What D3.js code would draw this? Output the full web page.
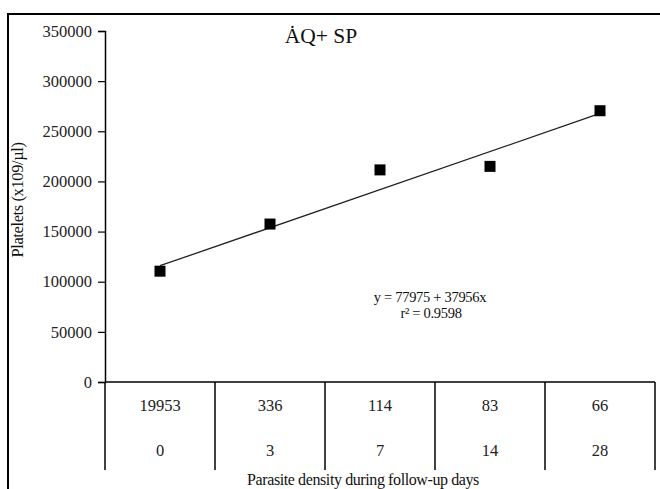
<!DOCTYPE html>
<html><head><meta charset="utf-8">
<script src="https://cdn.jsdelivr.net/npm/d3@7"></script>
<style>body{margin:0;background:#fff}svg{display:block}text{font-family:"Liberation Serif","Times New Roman",serif}</style>
</head><body>
<svg id="c" width="660" height="489"></svg>
<script>
const parasiteDensity = ["19953","336","114","83","66"];
const followUpDays = ["0","3","7","14","28"];
const platelets = [110500, 157500, 211500, 215000, 270500];
const yTicks = [0,50000,100000,150000,200000,250000,300000,350000];
const fitIntercept = 77975, fitSlope = 37956;
const title = "ȦQ+ SP";
const eqText = "y = 77975 + 37956x";
const r2Text = "r² = 0.9598";

const svg = d3.select("#c");
const x0 = 105, x1 = 655, yTop = 31, yBot = 382;
const x = d3.scaleBand().domain(d3.range(parasiteDensity.length)).range([x0, x1]);
const y = d3.scaleLinear().domain([0,350000]).range([yBot, yTop]);

// outer frame
svg.append("path").attr("d","M8,489V14H660").attr("fill","none").attr("stroke","#000").attr("stroke-width",2);

// y axis
const ya = svg.append("g").attr("transform",`translate(${x0},0)`)
  .call(d3.axisLeft(y).tickValues(yTicks).tickSize(7).tickPadding(6).tickFormat(d3.format("d")));
ya.select(".domain").attr("stroke","#000").attr("stroke-width",1.5);
ya.selectAll("line").attr("stroke","#000").attr("stroke-width",1.2);
ya.selectAll("text").attr("font-size",16.5).attr("fill","#222").attr("font-family","Liberation Serif");

// x axis line
svg.append("line").attr("x1",x0).attr("x2",x1).attr("y1",yBot).attr("y2",yBot).attr("stroke","#000").attr("stroke-width",1.5);
// table separators
const seps = x.domain().map(i=>x(i)).concat([x1]);
svg.selectAll("line.sep").data(seps).join("line").attr("class","sep")
  .attr("x1",d=>d).attr("x2",d=>d).attr("y1",yBot).attr("y2",470).attr("stroke","#000").attr("stroke-width",1.5);
svg.selectAll("text.r1").data(parasiteDensity).join("text").attr("class","r1")
  .attr("x",(d,i)=>x(i)+x.bandwidth()/2).attr("y",411).attr("text-anchor","middle").attr("font-size",16.5).attr("fill","#222").text(d=>d);
svg.selectAll("text.r2").data(followUpDays).join("text").attr("class","r2")
  .attr("x",(d,i)=>x(i)+x.bandwidth()/2).attr("y",456).attr("text-anchor","middle").attr("font-size",16.5).attr("fill","#222").text(d=>d);

// regression line
const n = platelets.length;
svg.append("line")
  .attr("x1",x(0)+x.bandwidth()/2).attr("y1",y(fitIntercept+fitSlope*1))
  .attr("x2",x(n-1)+x.bandwidth()/2).attr("y2",y(fitIntercept+fitSlope*n))
  .attr("stroke","#222").attr("stroke-width",1.3);

// points
const s = 11;
svg.selectAll("rect.pt").data(platelets).join("rect").attr("class","pt")
  .attr("x",(d,i)=>x(i)+x.bandwidth()/2-s/2).attr("y",d=>y(d)-s/2).attr("width",s).attr("height",s).attr("fill","#000");

// title
svg.append("text").attr("x",321).attr("y",43).attr("text-anchor","middle").attr("font-size",21.5).attr("fill","#111").text(title);
// equation
svg.append("text").attr("x",430).attr("y",302).attr("text-anchor","middle").attr("font-size",14.5).attr("letter-spacing","-0.3").attr("fill","#111").text(eqText);
svg.append("text").attr("x",431).attr("y",318).attr("text-anchor","middle").attr("font-size",14.5).attr("letter-spacing","-0.3").attr("fill","#111").text(r2Text);

// axis titles
svg.append("text").attr("transform","translate(23,200) rotate(-90)").attr("text-anchor","middle").attr("font-size",16.5).attr("letter-spacing","-0.4").attr("fill","#111").text("Platelets (x109/µl)");
svg.append("text").attr("x",363).attr("y",485).attr("text-anchor","middle").attr("font-size",16).attr("letter-spacing","-0.4").attr("fill","#111").text("Parasite density during follow-up days");
</script>
</body></html>
